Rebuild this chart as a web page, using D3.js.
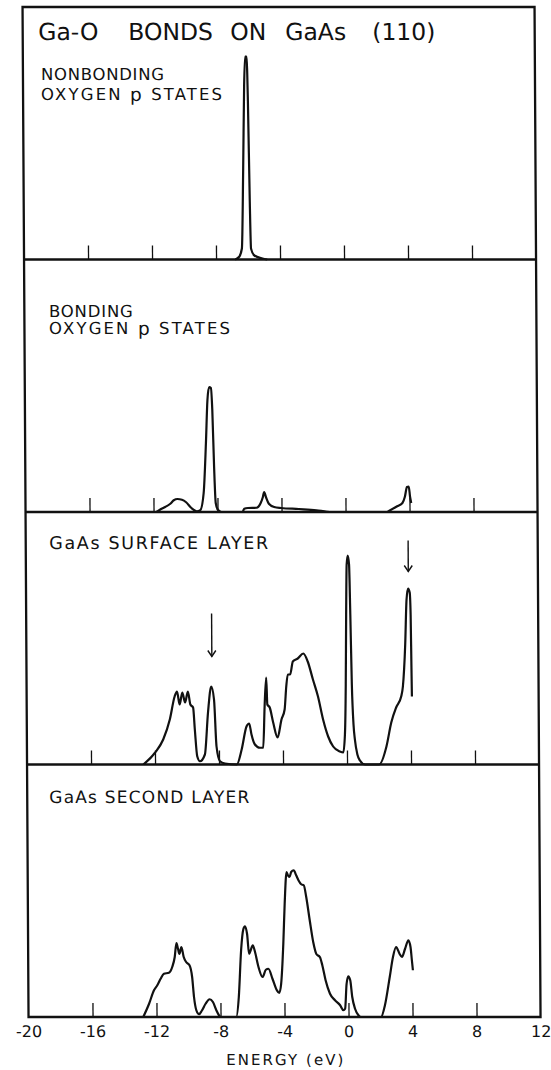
<!DOCTYPE html>
<html>
<head>
<meta charset="utf-8">
<script src="https://cdn.jsdelivr.net/npm/d3@7"></script>
<style>
  body { margin: 0; background: #fff; }
  text { font-family: "DejaVu Sans", sans-serif; fill: #111; }
</style>
</head>
<body>
<svg id="chart" width="551" height="1070"></svg>
<script>
// energy axis (eV)
var energyDomain = [-20, 12];
var tickValues = [-16, -12, -8, -4, 0, 4, 8];
var tickLabels = [-20, -16, -12, -8, -4, 0, 4, 8, 12];

var titleWords = ["Ga-O", "BONDS", "ON", "GaAs", "(110)"];
var xTitle = "ENERGY (eV)";
var panelNames = [
  ["NONBONDING", "OXYGEN p STATES"],
  ["BONDING", "OXYGEN p STATES"],
  ["GaAs SURFACE LAYER"],
  ["GaAs SECOND LAYER"]
];

// densities of states, arbitrary units (full panel = 101)
var nonbondE   = [-6.8, -6.55, -6.38, -6.27, -6.18, -6.11, -6.02, -5.95, -5.87, -5.81, -5.6, -5.1, -4.8];
var nonbondDos = [0, 1.1, 4.4, 36.4, 69.6, 81.2, 81.2, 63.2, 23.2, 4.4, 1.6, 0.4, 0];

var bondE   = [-11.82, -11.6, -11.27, -10.95, -10.73, -10.5, -10.22, -9.96, -9.63, -9.3, -9.08, -8.86, -8.7, -8.59, -8.48,
               -8.37, -8.29, -8.2, -8.11, -7.98, -7.76, -6.44, -6.33, -6.1, -5.56, -5.3, -5.16, -5.08, -4.97, -4.79,
               -4.46, -4.02, -2.92, -1.82, -1.16, -0.95, 2.57, 2.79, 3.23, 3.56, 3.71, 3.85, 3.96, 4.04, 4.11];
var bondDos = [0, 0.9, 2, 3.3, 4.7, 5.2, 4.9, 3.9, 1.6, 0.3, 0.7, 7.6, 27.6, 44.8, 50,
               49.6, 40.8, 18.4, 3.6, 0.9, 0, 0, 1.3, 1.6, 1.7, 3.6, 6, 8, 6, 3.3,
               2, 1.6, 1.2, 0.7, 0.1, 0, 0, 0.7, 2.3, 3.6, 6, 10, 10.2, 6, 3.6];

var surfE   = [-12.73, -12.0, -11.48, -11.06, -10.75, -10.6, -10.44, -10.27, -10.1, -9.92, -9.77, -9.6, -9.5, -9.36, -9.19,
               -8.88, -8.67, -8.46, -8.29, -8.15, -7.94, -7.63, -6.89, -6.58, -6.27, -6.1, -5.96, -5.75, -5.44, -5.23,
               -5.13, -5.02, -4.96, -4.81, -4.6, -4.33, -4.08, -3.88, -3.77, -3.67, -3.52, -3.35, -3.04, -2.69, -2.42,
               -2.1, -1.79, -1.48, -1.17, -0.86, -0.44, -0.23, -0.12, -0.05, 0.0, 0.05, 0.12, 0.2, 0.26, 0.33,
               0.42, 0.5, 0.65, 0.81, 1.13, 2.01, 2.47, 2.78, 3.09, 3.41, 3.52, 3.68, 3.78, 3.88, 3.98,
               4.03, 4.06, 4.08];
var surfDos = [0, 4.7, 10, 18, 27.2, 29.2, 24, 28.8, 24.8, 29.2, 24, 22.8, 14, 3.3, 1.3,
               4, 20.8, 31.2, 26, 7.2, 1.3, 0.4, 0, 6, 15.2, 16.4, 12, 8, 6.7, 6.7,
               23.2, 34.8, 24, 22.8, 16.8, 10.8, 18, 22, 31.2, 36, 36, 41.2, 42.4, 44.4, 41.2,
               34, 27.2, 18, 11.2, 7.2, 5.2, 4.8, 12, 32, 60, 80, 83.6, 80, 60, 32,
               16, 10, 4, 1.6, 0, 0, 7.2, 16.8, 22.8, 27.2, 31.2, 48, 66, 70.4, 68.8,
               60, 40, 27.2];

var secondE   = [-12.83, -12.46, -12.15, -11.94, -11.73, -11.52, -11.21, -11.0, -10.84, -10.73, -10.63, -10.55, -10.42, -10.28, -10.13,
                 -9.92, -9.76, -9.65, -9.51, -9.34, -9.18, -8.93, -8.68, -8.47, -8.26, -8.1, -8.0, -7.02, -6.85, -6.69,
                 -6.54, -6.44, -6.31, -6.19, -6.09, -5.96, -5.82, -5.61, -5.36, -5.15, -4.99, -4.74, -4.47, -4.32, -4.2,
                 -4.05, -3.95, -3.82, -3.74, -3.64, -3.53, -3.37, -3.22, -3.08, -2.91, -2.75, -2.6, -2.39, -2.18, -1.98,
                 -1.77, -1.62, -1.42, -1.15, -0.84, -0.52, -0.32, -0.21, -0.11, 0.0, 0.12, 0.24, 0.41, 0.62, 0.76,
                 2.03, 2.28, 2.59, 2.8, 3.0, 3.21, 3.36, 3.56, 3.77, 3.9, 3.98, 4.04];
var secondDos = [0, 5.3, 10.7, 12.7, 15.3, 17.3, 17.7, 20, 24, 29.6, 27.2, 25.2, 28, 24, 22,
                 20.7, 16, 8, 2.7, 1.1, 2.4, 5.3, 7.1, 6, 2.7, 0.7, 0, 0, 8, 26.7,
                 35.2, 36.3, 33.2, 25.2, 26.7, 28.7, 26, 20, 16, 18.9, 19.3, 15.3, 10.7, 9.6, 13.2,
                 29.2, 45.2, 58, 56.7, 56, 58, 58.7, 56.7, 54.7, 53.1, 52.7, 48, 38.7, 30, 25.1,
                 24, 20.7, 14.7, 9.3, 6.7, 4.7, 2.7, 3.3, 13.2, 16.3, 14.7, 8, 3.3, 0.7, 0,
                 0, 4.7, 16, 24, 28, 25.3, 24, 27.3, 30.7, 28, 22.7, 18.7];

// arrows in the surface layer panel
var arrowE   = [-8.41, 3.9];
var arrowTop = [60.4, 89.6];
var arrowTip = [43.2, 77.2];

var series = [
  d3.zip(nonbondE, nonbondDos),
  d3.zip(bondE, bondDos),
  d3.zip(surfE, surfDos),
  d3.zip(secondE, secondDos)
];

// layout  (note: "top" is taken by window.top)
var frameL = 22.5, frameR = 534.5, frameT = 7, frameB = 1017;
var panelH = (frameB - frameT) / 4;
var titleX = [38, 128, 230, 285, 372];
// [x, baseline, width, font size] for each label line
var labelPos = [
  [[40.5, 80, 123, 16.5], [40.5, 100, 181, 16.5]],
  [[47, 317, 84, 16.5], [47, 334, 181, 16.5]],
  [[46, 549, 219, 17.5]],
  [[44.5, 803, 200, 17]]
];

var svg = d3.select("#chart");
svg.append("rect").attr("width", 551).attr("height", 1070).attr("fill", "#fff");

// scanned original is slightly sheared
var g = svg.append("g").attr("transform", "skewX(0.34)");

var x = d3.scaleLinear().domain(energyDomain).range([frameL, frameR]);

var line = d3.line()
  .x(function(d){ return x(d[0]); })
  .curve(d3.curveMonotoneX);

for (var i = 0; i < 4; i++) {
  var base = frameT + panelH * (i + 1);
  var y = d3.scaleLinear().domain([0, 101]).range([base, base - panelH]);

  // inner ticks pointing up from the baseline
  var ax = g.append("g")
    .attr("transform", "translate(0," + base + ")")
    .call(d3.axisTop(x).tickValues(tickValues).tickSize(14).tickFormat(""));
  ax.select(".domain").remove();
  ax.selectAll("line").attr("stroke", "#111").attr("stroke-width", 1.3);

  // curve
  g.append("path")
    .datum(series[i])
    .attr("d", line.y(function(d){ return y(d[1]); }))
    .attr("fill", "none")
    .attr("stroke", "#111")
    .attr("stroke-width", 2.2)
    .attr("stroke-linejoin", "round");

  // panel label
  for (var j = 0; j < panelNames[i].length; j++) {
    var p = labelPos[i][j];
    var t = g.append("text")
      .attr("x", p[0])
      .attr("y", p[1])
      .attr("font-size", p[3])
      .attr("textLength", p[2])
      .attr("lengthAdjust", "spacing");
    var parts = panelNames[i][j].split(" p ");
    if (parts.length == 2) {
      t.append("tspan").text(parts[0] + " ");
      t.append("tspan").attr("font-size", 18.5).attr("dy", 1).text("p");
      t.append("tspan").attr("dy", -1).text(" " + parts[1]);
    } else {
      t.text(panelNames[i][j]);
    }
  }

  if (i == 2) {
    for (var k = 0; k < arrowE.length; k++) {
      var ax0 = x(arrowE[k]);
      var yTip = y(arrowTip[k]);
      g.append("line")
        .attr("x1", ax0).attr("x2", ax0)
        .attr("y1", y(arrowTop[k])).attr("y2", yTip)
        .attr("stroke", "#111").attr("stroke-width", 1.4);
      g.append("polyline")
        .attr("points", [[ax0 - 4, yTip - 6], [ax0, yTip], [ax0 + 4, yTip - 6]].join(" "))
        .attr("fill", "none").attr("stroke", "#111").attr("stroke-width", 1.4);
    }
  }
}

// frame and panel separators
g.append("rect")
  .attr("x", frameL).attr("y", frameT)
  .attr("width", frameR - frameL).attr("height", frameB - frameT)
  .attr("fill", "none").attr("stroke", "#111").attr("stroke-width", 2.3);
for (var i = 1; i < 4; i++) {
  g.append("line")
    .attr("x1", frameL).attr("x2", frameR)
    .attr("y1", frameT + panelH * i).attr("y2", frameT + panelH * i)
    .attr("stroke", "#111").attr("stroke-width", 2.3);
}

// title
var title = g.append("text").attr("y", 40).attr("font-size", 23.5);
for (var i = 0; i < titleWords.length; i++) {
  title.append("tspan").attr("x", titleX[i]).text(titleWords[i]);
}

// energy labels
var bx = g.append("g")
  .attr("transform", "translate(0," + frameB + ")")
  .call(d3.axisBottom(x).tickValues(tickLabels).tickSize(0).tickPadding(8.5)
    .tickFormat(function(d){ return String(d); }));
bx.select(".domain").remove();
bx.selectAll("text")
  .attr("font-family", "DejaVu Sans")
  .attr("font-size", 16)
  .attr("fill", "#111");

g.append("text")
  .attr("x", (frameL + frameR) / 2)
  .attr("y", 1065)
  .attr("text-anchor", "middle")
  .attr("font-size", 15)
  .attr("textLength", 117)
  .attr("lengthAdjust", "spacing")
  .text(xTitle);
</script>
</body>
</html>
